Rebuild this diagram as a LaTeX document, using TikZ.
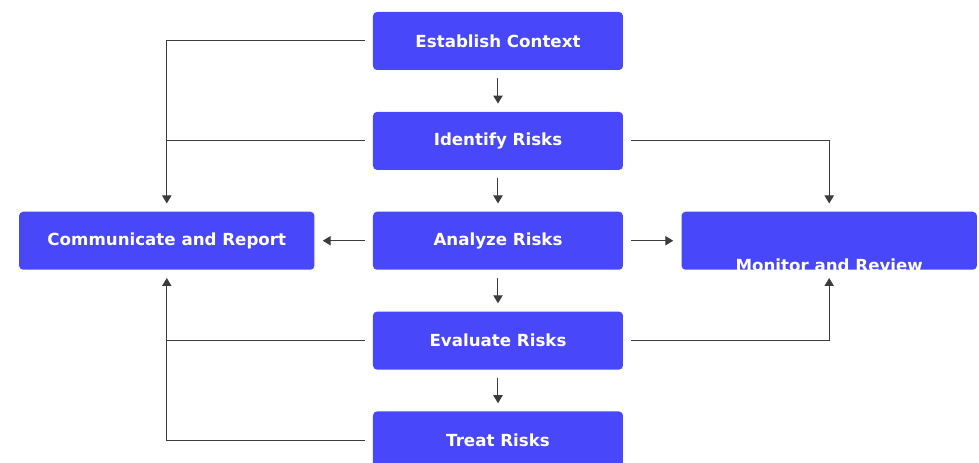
\documentclass[tikz,border=0pt]{standalone}
\usepackage{fontspec}
\setmainfont{DejaVu Sans}
\usetikzlibrary{positioning,arrows.meta}

\definecolor{stepblue}{RGB}{72,72,250}
\definecolor{linegray}{RGB}{60,60,60}

\begin{document}
\begin{tikzpicture}[>={Triangle[width=7pt,length=6pt]},
        node distance=31pt and 43.5pt,
        riskbox/.style={rectangle,rounded corners=3pt,fill=stepblue,text=white,
            minimum width=187.5pt,minimum height=43.5pt,inner sep=0pt,
            font=\bfseries\fontsize{12.5}{15}\selectfont},
        sidebox/.style={riskbox,minimum width=221.5pt},
        link/.style={draw=linegray,line width=0.75pt,shorten <=6pt},
        arrow/.style={link,->,shorten >=6pt}]

    % page frame, the last box runs off the bottom
    \useasboundingbox (-373.5pt,30.75pt) rectangle (360.75pt,-316.5pt);
    \clip (-373.5pt,30.75pt) rectangle (360.75pt,-316.5pt);

    \node[riskbox] (context) at (0,0) {Establish Context};
    \node[riskbox] (identify) [below=of context] {Identify Risks};
    \node[riskbox] (analyze) [below=of identify] {Analyze Risks};
    \node[riskbox] (evaluate) [below=of analyze] {Evaluate Risks};
    \node[riskbox] (treat) [below=of evaluate] {Treat Risks};

    \node[sidebox] (report) [left=of analyze] {Communicate and Report};
    \node[sidebox] (monitor) [right=of analyze,
        path picture={\node[anchor=base,text=white,
            font=\bfseries\fontsize{12.5}{15}\selectfont]
            at ([yshift=-1.5pt]path picture bounding box.south) {Monitor and Review};}] {};

    % main chain
    \draw[arrow] (context) -- (identify);
    \draw[arrow] (identify) -- (analyze);
    \draw[arrow] (analyze) -- (evaluate);
    \draw[arrow] (evaluate) -- (treat);

    % feeds to the side boxes
    \draw[arrow] (analyze) -- (report);
    \draw[arrow] (analyze) -- (monitor);
    \draw[arrow] (context.west) -| (report.north);
    \draw[link] (identify.west) -- (identify.west -| report.north);
    \draw[arrow] (identify.east) -| (monitor.north);
    \draw[arrow] (evaluate.east) -| (monitor.south);
    \draw[link] (evaluate.west) -- (evaluate.west -| report.south);
    \draw[arrow] (treat.west) -| (report.south);
\end{tikzpicture}
\end{document}
